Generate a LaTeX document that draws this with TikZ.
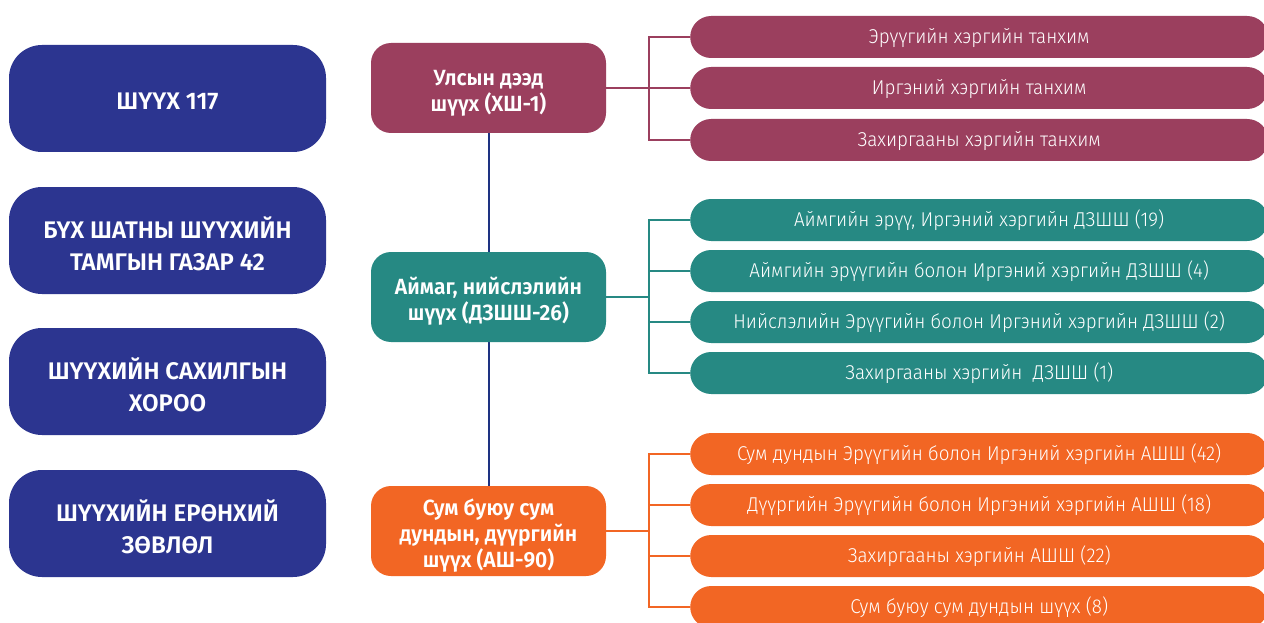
\documentclass[tikz,border=0pt]{standalone}
\usepackage{fontspec}
\setmainfont{Fira Sans}
\newfontfamily\boldf{Fira Sans SemiBold}
\newfontfamily\midf{Fira Sans SemiBold}[FakeStretch=0.96]
\newfontfamily\lightf{Fira Sans Light}[FakeStretch=0.94]
\definecolor{navybox}{HTML}{2C3590}
\definecolor{maroon}{HTML}{9B3F5E}
\definecolor{teal}{HTML}{268983}
\definecolor{orange}{HTML}{F26624}
\definecolor{navyline}{HTML}{1E3282}
\begin{document}
\begin{tikzpicture}[x=1pt,y=-1pt,
  leftbox/.style={fill=navybox,rounded corners=33pt,minimum width=317pt,minimum height=107pt,
    text=white,align=center,inner sep=0pt,text depth=0pt,text height=60pt,font={\boldf\fontsize{24}{32}\selectfont}},
  midbox/.style={fill=#1,rounded corners=20pt,minimum width=235pt,minimum height=90pt,
    text=white,align=center,inner sep=0pt,text depth=0pt,font={\midf\fontsize{22}{26}\selectfont}},
  subbox/.style={fill=#1,rounded corners=21pt,minimum width=578pt,minimum height=42pt,
    text=white,anchor=west,inner sep=0pt,text height=14.5pt,text depth=2pt,font={\lightf\fontsize{20}{24}\selectfont}},
  conn/.style={draw=#1,line width=2pt}]
\useasboundingbox (0,0) rectangle (1264,623);
\fill[white] (0,0) rectangle (1264,623);
% left column
\node[leftbox,text height=23pt] (l1) at (167.5,98.5) {ШҮҮХ 117};
\node[leftbox] (l2) at (167.5,240.5) {БҮХ ШАТНЫ ШҮҮХИЙН\\ТАМГЫН ГАЗАР 42};
\node[leftbox] (l3) at (167.5,381.5) {ШҮҮХИЙН САХИЛГЫН\\ХОРОО};
\node[leftbox] (l4) at (167.5,523.5) {ШҮҮХИЙН ЕРӨНХИЙ\\ЗӨВЛӨЛ};
% middle column
\coordinate (ma) at (488.5,88);
\coordinate (mc) at (488.5,531);
\draw[conn=navyline] (ma) -- (mc);
\node[midbox=maroon,text height=48pt] (mA) at (ma) {Улсын дээд\\шүүх (ХШ-1)};
\node[midbox=teal,text height=46pt] (mB) at (488.5,297) {Аймаг, нийслэлийн\\шүүх (ДЗШШ-26)};
\node[midbox=orange,text height=73pt] (mC) at (mc) {Сум буюу сум\\дундын, дүүргийн\\шүүх (АШ-90)};
% right column
\node[subbox=maroon] (a1) at (690,37) {Эрүүгийн хэргийн танхим};
\node[subbox=maroon] (a2) at (690,88) {Иргэний хэргийн танхим};
\node[subbox=maroon] (a3) at (690,140) {Захиргааны хэргийн танхим};
\node[subbox=teal] (b1) at (690,220) {Аймгийн эрүү, Иргэний хэргийн ДЗШШ (19)};
\node[subbox=teal] (b2) at (690,271) {Аймгийн эрүүгийн болон Иргэний хэргийн ДЗШШ (4)};
\node[subbox=teal] (b3) at (690,322) {Нийслэлийн Эрүүгийн болон Иргэний хэргийн ДЗШШ (2)};
\node[subbox=teal] (b4) at (690,373) {Захиргааны хэргийн\ \ ДЗШШ (1)};
\node[subbox=orange] (c1) at (690,454) {Сум дундын Эрүүгийн болон Иргэний хэргийн АШШ (42)};
\node[subbox=orange] (c2) at (690,505) {Дүүргийн Эрүүгийн болон Иргэний хэргийн АШШ (18)};
\node[subbox=orange] (c3) at (690,556) {Захиргааны хэргийн АШШ (22)};
\node[subbox=orange] (c4) at (690,607) {Сум буюу сум дундын шүүх (8)};
% brackets
\coordinate (jx) at (649,0);
\draw[conn=maroon] (mA.east) -- (mA.east -| jx);
\draw[conn=maroon] (a1.west) -| (jx |- a3.west) -- (a3.west);
\draw[conn=maroon] (a2.west) -- (a2.west -| jx);
\draw[conn=teal] (mB.east) -- (mB.east -| jx);
\draw[conn=teal] (b1.west) -| (jx |- b4.west) -- (b4.west);
\draw[conn=teal] (b2.west) -- (b2.west -| jx);
\draw[conn=teal] (b3.west) -- (b3.west -| jx);
\draw[conn=orange] (mC.east) -- (mC.east -| jx);
\draw[conn=orange] (c1.west) -| (jx |- c4.west) -- (c4.west);
\draw[conn=orange] (c2.west) -- (c2.west -| jx);
\draw[conn=orange] (c3.west) -- (c3.west -| jx);
\end{tikzpicture}
\end{document}
